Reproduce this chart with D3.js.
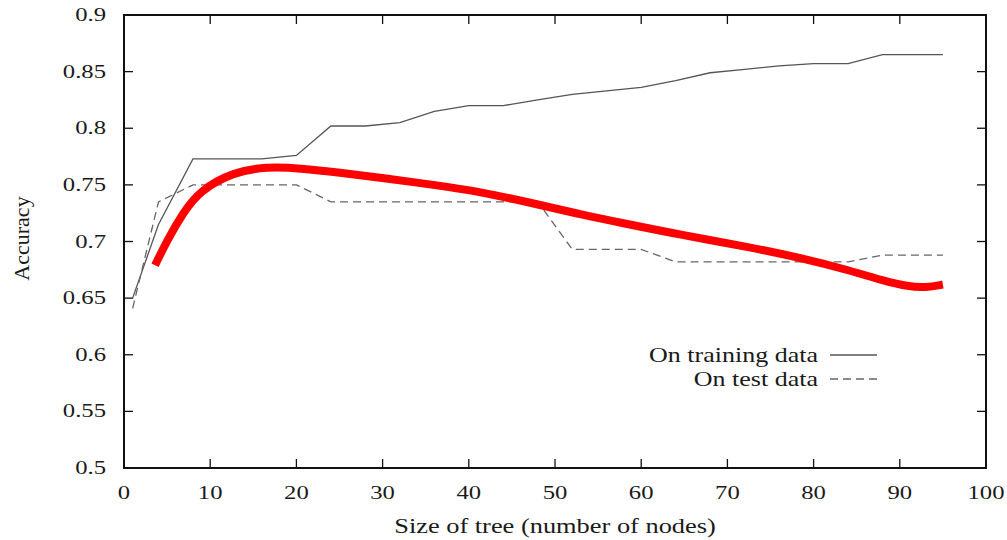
<!DOCTYPE html>
<html>
<head>
<meta charset="utf-8">
<script src="https://cdn.jsdelivr.net/npm/d3@7"></script>
<style>
  html, body { margin: 0; padding: 0; background: #fff; }
  svg { display: block; }
</style>
</head>
<body>
<svg id="chart" width="1007" height="540"></svg>
<script>
// ---- data ----
const trainX = [1, 4, 8, 12, 16, 20, 24, 28, 32, 36, 40, 44, 48, 52, 56, 60, 64, 68, 72, 76, 80, 84, 88, 95];
const trainY = [0.650, 0.715, 0.773, 0.773, 0.773, 0.776, 0.802, 0.802, 0.805, 0.815, 0.820, 0.820, 0.825, 0.830, 0.833, 0.836, 0.842, 0.849, 0.852, 0.855, 0.857, 0.857, 0.865, 0.865];
const testX = [1, 4, 8, 12, 16, 20, 24, 28, 32, 36, 40, 44, 48, 52, 56, 60, 64, 68, 72, 76, 80, 84, 88, 95];
const testY = [0.641, 0.735, 0.750, 0.750, 0.750, 0.750, 0.735, 0.735, 0.735, 0.735, 0.735, 0.735, 0.735, 0.693, 0.693, 0.693, 0.682, 0.682, 0.682, 0.682, 0.682, 0.682, 0.688, 0.688];
const fitX = [3.6, 5, 6.9, 8.8, 12.7, 16.6, 20.4, 25, 30, 36, 41.3, 47.9, 52.9, 58, 64.5, 72.6, 78.5, 84.2, 88, 91, 93, 95];
const fitY = [0.679, 0.701, 0.726, 0.745, 0.7615, 0.766, 0.7647, 0.761, 0.756, 0.750, 0.744, 0.733, 0.724, 0.716, 0.706, 0.695, 0.6855, 0.6745, 0.6655, 0.6602, 0.6592, 0.662];
const xTicks = [0, 10, 20, 30, 40, 50, 60, 70, 80, 90, 100];
const yTicks = [0.5, 0.55, 0.6, 0.65, 0.7, 0.75, 0.8, 0.85, 0.9];
const legendLabels = ["On training data", "On test data"];
const xTitle = "Size of tree (number of nodes)";
const yTitle = "Accuracy";

// ---- layout ----
const FONT = "'Liberation Serif', 'Times New Roman', Times, serif";
const L = 124, R = 986, T = 15, B = 468;
const svg = d3.select("#chart");
const x = d3.scaleLinear().domain([0, 100]).range([L, R]);
const y = d3.scaleLinear().domain([0.5, 0.9]).range([B, T]);
const tickLen = 9;

// ticks on all four sides (inward)
const g = svg.append("g");
xTicks.slice(1, -1).forEach(v => {
  g.append("line").attr("x1", x(v)).attr("x2", x(v)).attr("y1", B).attr("y2", B - tickLen)
    .attr("stroke", "#111").attr("stroke-width", 1.3);
  g.append("line").attr("x1", x(v)).attr("x2", x(v)).attr("y1", T).attr("y2", T + tickLen)
    .attr("stroke", "#111").attr("stroke-width", 1.3);
});
yTicks.slice(1, -1).forEach(v => {
  g.append("line").attr("x1", L).attr("x2", L + tickLen).attr("y1", y(v)).attr("y2", y(v))
    .attr("stroke", "#111").attr("stroke-width", 1.3);
  g.append("line").attr("x1", R).attr("x2", R - tickLen).attr("y1", y(v)).attr("y2", y(v))
    .attr("stroke", "#111").attr("stroke-width", 1.3);
});

function txt() {
  return svg.append("text").attr("font-family", FONT).attr("fill", "#1a1a1a");
}

// tick labels
xTicks.forEach(v => {
  txt().attr("transform", `translate(${x(v)},${B + 31}) scale(1.3,1)`)
    .attr("text-anchor", "middle").attr("font-size", 19).text(v);
});
yTicks.forEach(v => {
  txt().attr("transform", `translate(${L - 18},${y(v) + 6}) scale(1.3,1)`)
    .attr("text-anchor", "end").attr("font-size", 19).text(d3.format("~g")(v));
});

// axis titles
txt().attr("transform", `translate(${(L + R) / 2},${533}) scale(1.2,1)`)
  .attr("text-anchor", "middle").attr("font-size", 22).text(xTitle);
txt().attr("transform", `translate(29,${(T + B) / 2 - 3}) rotate(-90)`)
  .attr("text-anchor", "middle").attr("font-size", 22).text(yTitle);

// lines
const line = d3.line().x(d => x(d[0])).y(d => y(d[1]));
svg.append("path")
  .datum(trainX.map((v, i) => [v, trainY[i]]))
  .attr("d", line).attr("fill", "none")
  .attr("stroke", "#555").attr("stroke-width", 1.3);
svg.append("path")
  .datum(testX.map((v, i) => [v, testY[i]]))
  .attr("d", line).attr("fill", "none")
  .attr("stroke", "#666").attr("stroke-width", 1.3)
  .attr("stroke-dasharray", "8,5");
const smooth = d3.line().x(d => x(d[0])).y(d => y(d[1])).curve(d3.curveBasis);
svg.append("path")
  .datum(fitX.map((v, i) => [v, fitY[i]]))
  .attr("d", smooth).attr("fill", "none")
  .attr("stroke", "#ff0000").attr("stroke-width", 8);

// frame
svg.append("rect").attr("x", L).attr("y", T).attr("width", R - L).attr("height", B - T)
  .attr("fill", "none").attr("stroke", "#111").attr("stroke-width", 2);

// legend
const legY = [355, 379];
legendLabels.forEach((lab, i) => {
  txt().attr("transform", `translate(818,${legY[i] + 7}) scale(1.3,1)`)
    .attr("text-anchor", "end").attr("font-size", 20).text(lab);
  const ln = svg.append("line")
    .attr("x1", 830).attr("x2", 877).attr("y1", legY[i]).attr("y2", legY[i])
    .attr("stroke", i === 0 ? "#555" : "#666").attr("stroke-width", 1.3);
  if (i === 1) ln.attr("stroke-dasharray", "8,5");
});
</script>
</body>
</html>
